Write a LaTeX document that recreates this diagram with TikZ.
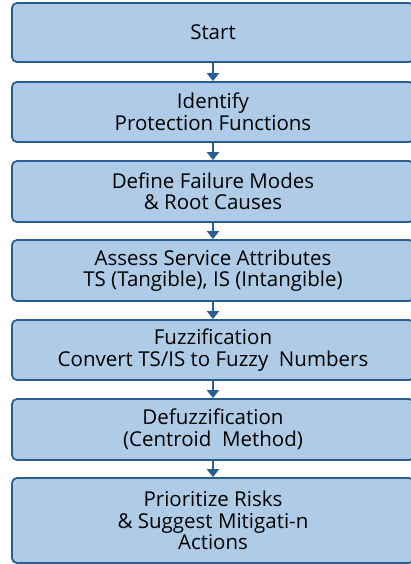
\documentclass[tikz,border=0pt]{standalone}
\usepackage{fontspec}
\setmainfont{Open Sans}
\usetikzlibrary{arrows.meta}
\definecolor{boxfill}{HTML}{AECBE8}
\definecolor{boxline}{HTML}{2A5E93}
\begin{document}
\begin{tikzpicture}[x=1pt,y=-1pt]
\tikzstyle{every node}+=[font=\fontsize{20.5}{21.5}\selectfont]
\tikzstyle{stepbox}=[draw=boxline, fill=boxfill, line width=1.8pt, rounded corners=5pt,
  minimum width=402pt, align=center, inner sep=0pt]
\tikzstyle{flow}=[draw=boxline, line width=2pt, -{Triangle[width=12pt,length=8pt]}]
\useasboundingbox (0,0) rectangle (411,564);
\fill[white] (0,0) rectangle (411,564);
\node[stepbox, minimum height=59pt] (start) at (213,32.5) {Start};
\node[stepbox, minimum height=60pt] (ident) at (213,112) {Identify\\Protection Functions};
\node[stepbox, minimum height=61pt] (modes) at (213,191.5) {Define Failure Modes\\\& Root Causes};
\node[stepbox, minimum height=61pt] (assess) at (213,270.5) {Assess Service Attributes\\TS (Tangible), IS (Intangible)};
\node[stepbox, minimum height=60pt] (fuzz) at (213,350) {Fuzzification\\Convert TS/IS to Fuzzy\ \ Numbers};
\node[stepbox, minimum height=61pt] (defuzz) at (213,429.5) {Defuzzification\\(Centroid\ \ Method)};
\node[stepbox, minimum height=85pt] (prior) at (213,520.5) {Prioritize Risks\\\& Suggest Mitigati-n\\Actions};
% connectors
\draw[flow] (start) -- (ident);
\draw[flow] (ident) -- (modes);
\draw[flow] (modes) -- (assess);
\draw[flow] (assess) -- (fuzz);
\draw[flow] (fuzz) -- (defuzz);
\draw[flow] (defuzz) -- (prior);
\end{tikzpicture}
\end{document}
